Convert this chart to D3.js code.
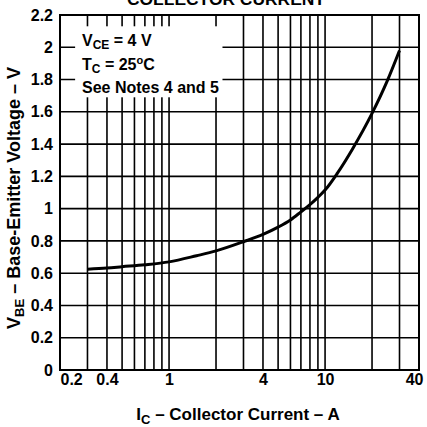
<!DOCTYPE html>
<html>
<head>
<meta charset="utf-8">
<script src="https://cdn.jsdelivr.net/npm/d3@7"></script>
<style>
  body { margin: 0; background: #fff; }
  text { font-family: "Liberation Sans", Arial, sans-serif; font-weight: bold; fill: #000; }
</style>
</head>
<body>
<script>
//Data
const current = [0.3, 0.4, 0.5, 0.7, 1, 1.5, 2, 3, 4, 5, 6, 7, 8, 9, 10, 12, 15, 20, 25, 30];
const vbe = [0.625, 0.632, 0.64, 0.652, 0.67, 0.708, 0.738, 0.795, 0.84, 0.885, 0.93, 0.98, 1.025, 1.07, 1.115, 1.22, 1.37, 1.59, 1.79, 1.98];

const yTicks = [0, 0.2, 0.4, 0.6, 0.8, 1, 1.2, 1.4, 1.6, 1.8, 2, 2.2];
const xTicks = [0.2, 0.4, 1, 4, 10, 40];
const xGrid = [0.3, 0.4, 0.5, 0.6, 0.7, 0.8, 0.9, 1, 2, 3, 4, 5, 6, 7, 8, 9, 10, 20, 30];

//Note box (data units) where the grid is blanked out
const noteBox = {x0: 0.25, x1: 2.2, y0: 1.69, y1: 2.13};

const width = 427;
const height = 427;

const svg = d3.select("body")
    .append("svg")
    .attr("width", width)
    .attr("height", height);

//Scales
const xScale = d3.scaleLog()
    .domain([0.2, 40])
    .range([60, 419]);

const yScale = d3.scaleLinear()
    .domain([0, 2.2])
    .range([370, 15]);

//Grid
svg.append("g")
    .selectAll("line")
    .data(yTicks.slice(1, -1))
    .join("line")
    .attr("x1", xScale(0.2))
    .attr("x2", xScale(40))
    .attr("y1", d => yScale(d))
    .attr("y2", d => yScale(d))
    .attr("stroke", "#000")
    .attr("stroke-width", 1.6);

svg.append("g")
    .selectAll("line")
    .data(xGrid)
    .join("line")
    .attr("x1", d => xScale(d))
    .attr("x2", d => xScale(d))
    .attr("y1", yScale(0))
    .attr("y2", yScale(2.2))
    .attr("stroke", "#000")
    .attr("stroke-width", 1.6);

//Blank area behind the notes
svg.append("rect")
    .attr("x", xScale(noteBox.x0))
    .attr("y", yScale(noteBox.y1))
    .attr("width", xScale(noteBox.x1) - xScale(noteBox.x0))
    .attr("height", yScale(noteBox.y0) - yScale(noteBox.y1))
    .attr("fill", "#fff");

//Frame
svg.append("rect")
    .attr("x", xScale(0.2))
    .attr("y", yScale(2.2))
    .attr("width", xScale(40) - xScale(0.2))
    .attr("height", yScale(0) - yScale(2.2))
    .attr("fill", "none")
    .attr("stroke", "#000")
    .attr("stroke-width", 2);

//Curve
const line = d3.line()
    .x(d => xScale(d[0]))
    .y(d => yScale(d[1]))
    .curve(d3.curveMonotoneX);

svg.append("path")
    .datum(current.map((c, i) => [c, vbe[i]]))
    .attr("d", line)
    .attr("fill", "none")
    .attr("stroke", "#000")
    .attr("stroke-width", 3);

//Axes
const leftAxis = d3.axisLeft(yScale)
    .tickValues(yTicks)
    .tickSize(0)
    .tickPadding(7)
    .tickFormat(d3.format("~g"));

const gy = svg.append("g")
    .attr("transform", "translate(" + xScale(0.2) + ",0)")
    .call(leftAxis);
gy.select(".domain").remove();
gy.selectAll("text").style("font-size", "16px").style("font-family", null);

const bottomAxis = d3.axisBottom(xScale)
    .tickValues(xTicks)
    .tickSize(0)
    .tickPadding(4)
    .tickFormat(d3.format("~g"));

const gx = svg.append("g")
    .attr("transform", "translate(0," + yScale(0) + ")")
    .call(bottomAxis);
gx.select(".domain").remove();
gx.selectAll("text").style("font-size", "16px").style("font-family", null);
gx.selectAll("text").filter(d => d === 0.2).attr("text-anchor", "start");
gx.selectAll("text").filter(d => d === 40).attr("text-anchor", "end").attr("dx", 4);

//Title (cut off at the top, as in the source)
svg.append("text")
    .attr("x", 226)
    .attr("y", 5)
    .attr("text-anchor", "middle")
    .attr("textLength", 198)
    .attr("lengthAdjust", "spacingAndGlyphs")
    .style("font-size", "16px")
    .text("COLLECTOR CURRENT");

//Axis titles
const xt = svg.append("text")
    .attr("x", 238)
    .attr("y", 420)
    .attr("text-anchor", "middle")
    .style("font-size", "17px");
xt.append("tspan").text("I");
xt.append("tspan").attr("dy", 4).style("font-size", "13px").text("C");
xt.append("tspan").attr("dy", -4).text(" \u2013 Collector Current \u2013 A");

const yt = svg.append("text")
    .attr("transform", "translate(20,198) rotate(-90)")
    .attr("text-anchor", "middle")
    .style("font-size", "18px");
yt.append("tspan").text("V");
yt.append("tspan").attr("dy", 4).style("font-size", "13px").text("BE");
yt.append("tspan").attr("dy", -4).text(" \u2013 Base-Emitter Voltage \u2013 V");

//Notes
const notes = svg.append("g").style("font-size", "16px");
const n1 = notes.append("text").attr("x", 82).attr("y", 46);
n1.append("tspan").text("V");
n1.append("tspan").attr("dy", 3).style("font-size", "12px").text("CE");
n1.append("tspan").attr("dy", -3).text(" = 4 V");

const n2 = notes.append("text").attr("x", 82).attr("y", 70);
n2.append("tspan").text("T");
n2.append("tspan").attr("dy", 3).style("font-size", "12px").text("C");
n2.append("tspan").attr("dy", -3).text(" = 25");
n2.append("tspan").attr("dy", -6).style("font-size", "11px").text("o");
n2.append("tspan").attr("dy", 6).text("C");

notes.append("text").attr("x", 82).attr("y", 93).text("See Notes 4 and 5");
</script>
</body>
</html>
